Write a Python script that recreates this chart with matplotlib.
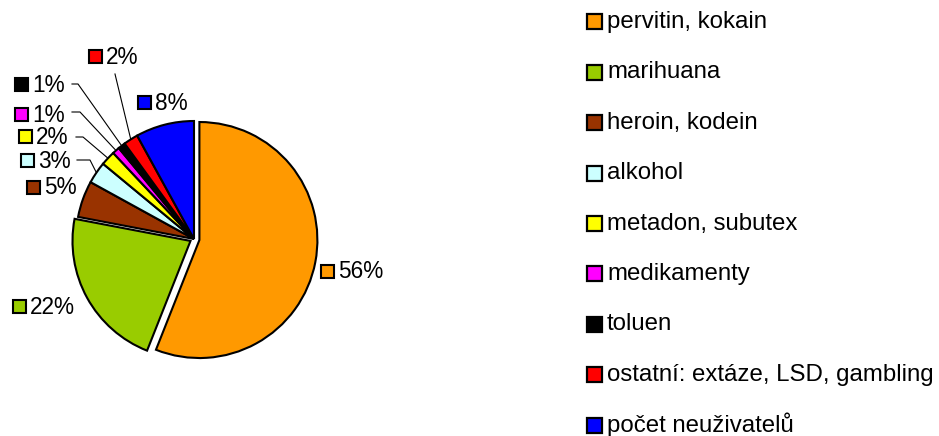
import matplotlib
matplotlib.use("Agg")
import matplotlib.pyplot as plt
from matplotlib.patches import Rectangle
import numpy as np

# ---- data ----
categories = ["pervitin, kokain", "marihuana", "heroin, kodein", "alkohol",
              "metadon, subutex", "medikamenty", "toluen",
              "ostatní: extáze, LSD, gambling", "počet neuživatelů"]
values = [56, 22, 5, 3, 2, 1, 1, 2, 8]
pct_labels = ["56%", "22%", "5%", "3%", "2%", "1%", "1%", "2%", "8%"]
colors = ["#FF9900", "#99CC00", "#993300", "#CCFFFF", "#FFFF00",
          "#FF00FF", "#000000", "#FF0000", "#0000FF"]

# ---- layout (pixel coordinates of the 939x436 image, y measured from top) ----
W, H = 939, 436
CX, CY, R = 193, 239, 118
explode_px = [5.5, 4.0, 0, 0, 0, 0, 0, 0, 0]
label_pos = [(321, 272), (13, 307), (27, 188), (21, 161), (19, 137),
             (15, 115), (15, 85), (89, 57), (138, 103)]
# leader lines: (start x, start y, elbow x) or None
leaders = [None, None, None, (77, 160, 90), (76, 137, 83), (72, 112, 80),
           (72, 84, 78), (115, 74, 115), None]
FONT = "Liberation Sans"
FS_PCT = 16.3
FS_LEG = 17.3

fig = plt.figure(figsize=(W / 100, H / 100), dpi=100)
ax = fig.add_axes([0, 0, 1, 1])

wedges, _ = ax.pie(values, colors=colors, startangle=90, counterclock=False,
                   explode=explode_px, center=(CX + 1, H - CY), radius=R,
                   wedgeprops=dict(edgecolor="black", linewidth=1.5))
ax.set_xlim(0, W)
ax.set_ylim(0, H)
ax.set_aspect("equal")
ax.axis("off")

def iy(y):
    return H - y

# percentage labels with colour keys
sq = 13
for i, (lx, ly) in enumerate(label_pos):
    ax.add_patch(Rectangle((lx, iy(ly) - sq / 2), sq, sq, facecolor=colors[i],
                           edgecolor="black", linewidth=1.5, zorder=5))
    ax.text(lx + sq + 4, iy(ly), pct_labels[i], fontsize=FS_PCT, family=FONT,
            va="center", ha="left", zorder=5)

# leader lines
total = sum(values)
cum = 0
for i, v in enumerate(values):
    mid = 90 - 360 * (cum + v / 2) / total
    cum += v
    if leaders[i] is None:
        continue
    sx, sy, ex = leaders[i]
    t = np.deg2rad(mid)
    px = CX + 1 + R * np.cos(t)
    py = iy(CY) + R * np.sin(t)
    ax.plot([sx, ex, px], [iy(sy), iy(sy), py], color="black", lw=0.8, zorder=4)

# legend drawn on the right
LX, LY0, LSTEP, LSQ = 587, 22, 50.4, 15
for i, name in enumerate(categories):
    y = LY0 + i * LSTEP
    ax.add_patch(Rectangle((LX, iy(y) - LSQ / 2), LSQ, LSQ, facecolor=colors[i],
                           edgecolor="black", linewidth=1.6))
    ax.text(LX + LSQ + 5, iy(y), name, fontsize=FS_LEG, family=FONT,
            va="center", ha="left")

fig.savefig("out.png", dpi=100)
